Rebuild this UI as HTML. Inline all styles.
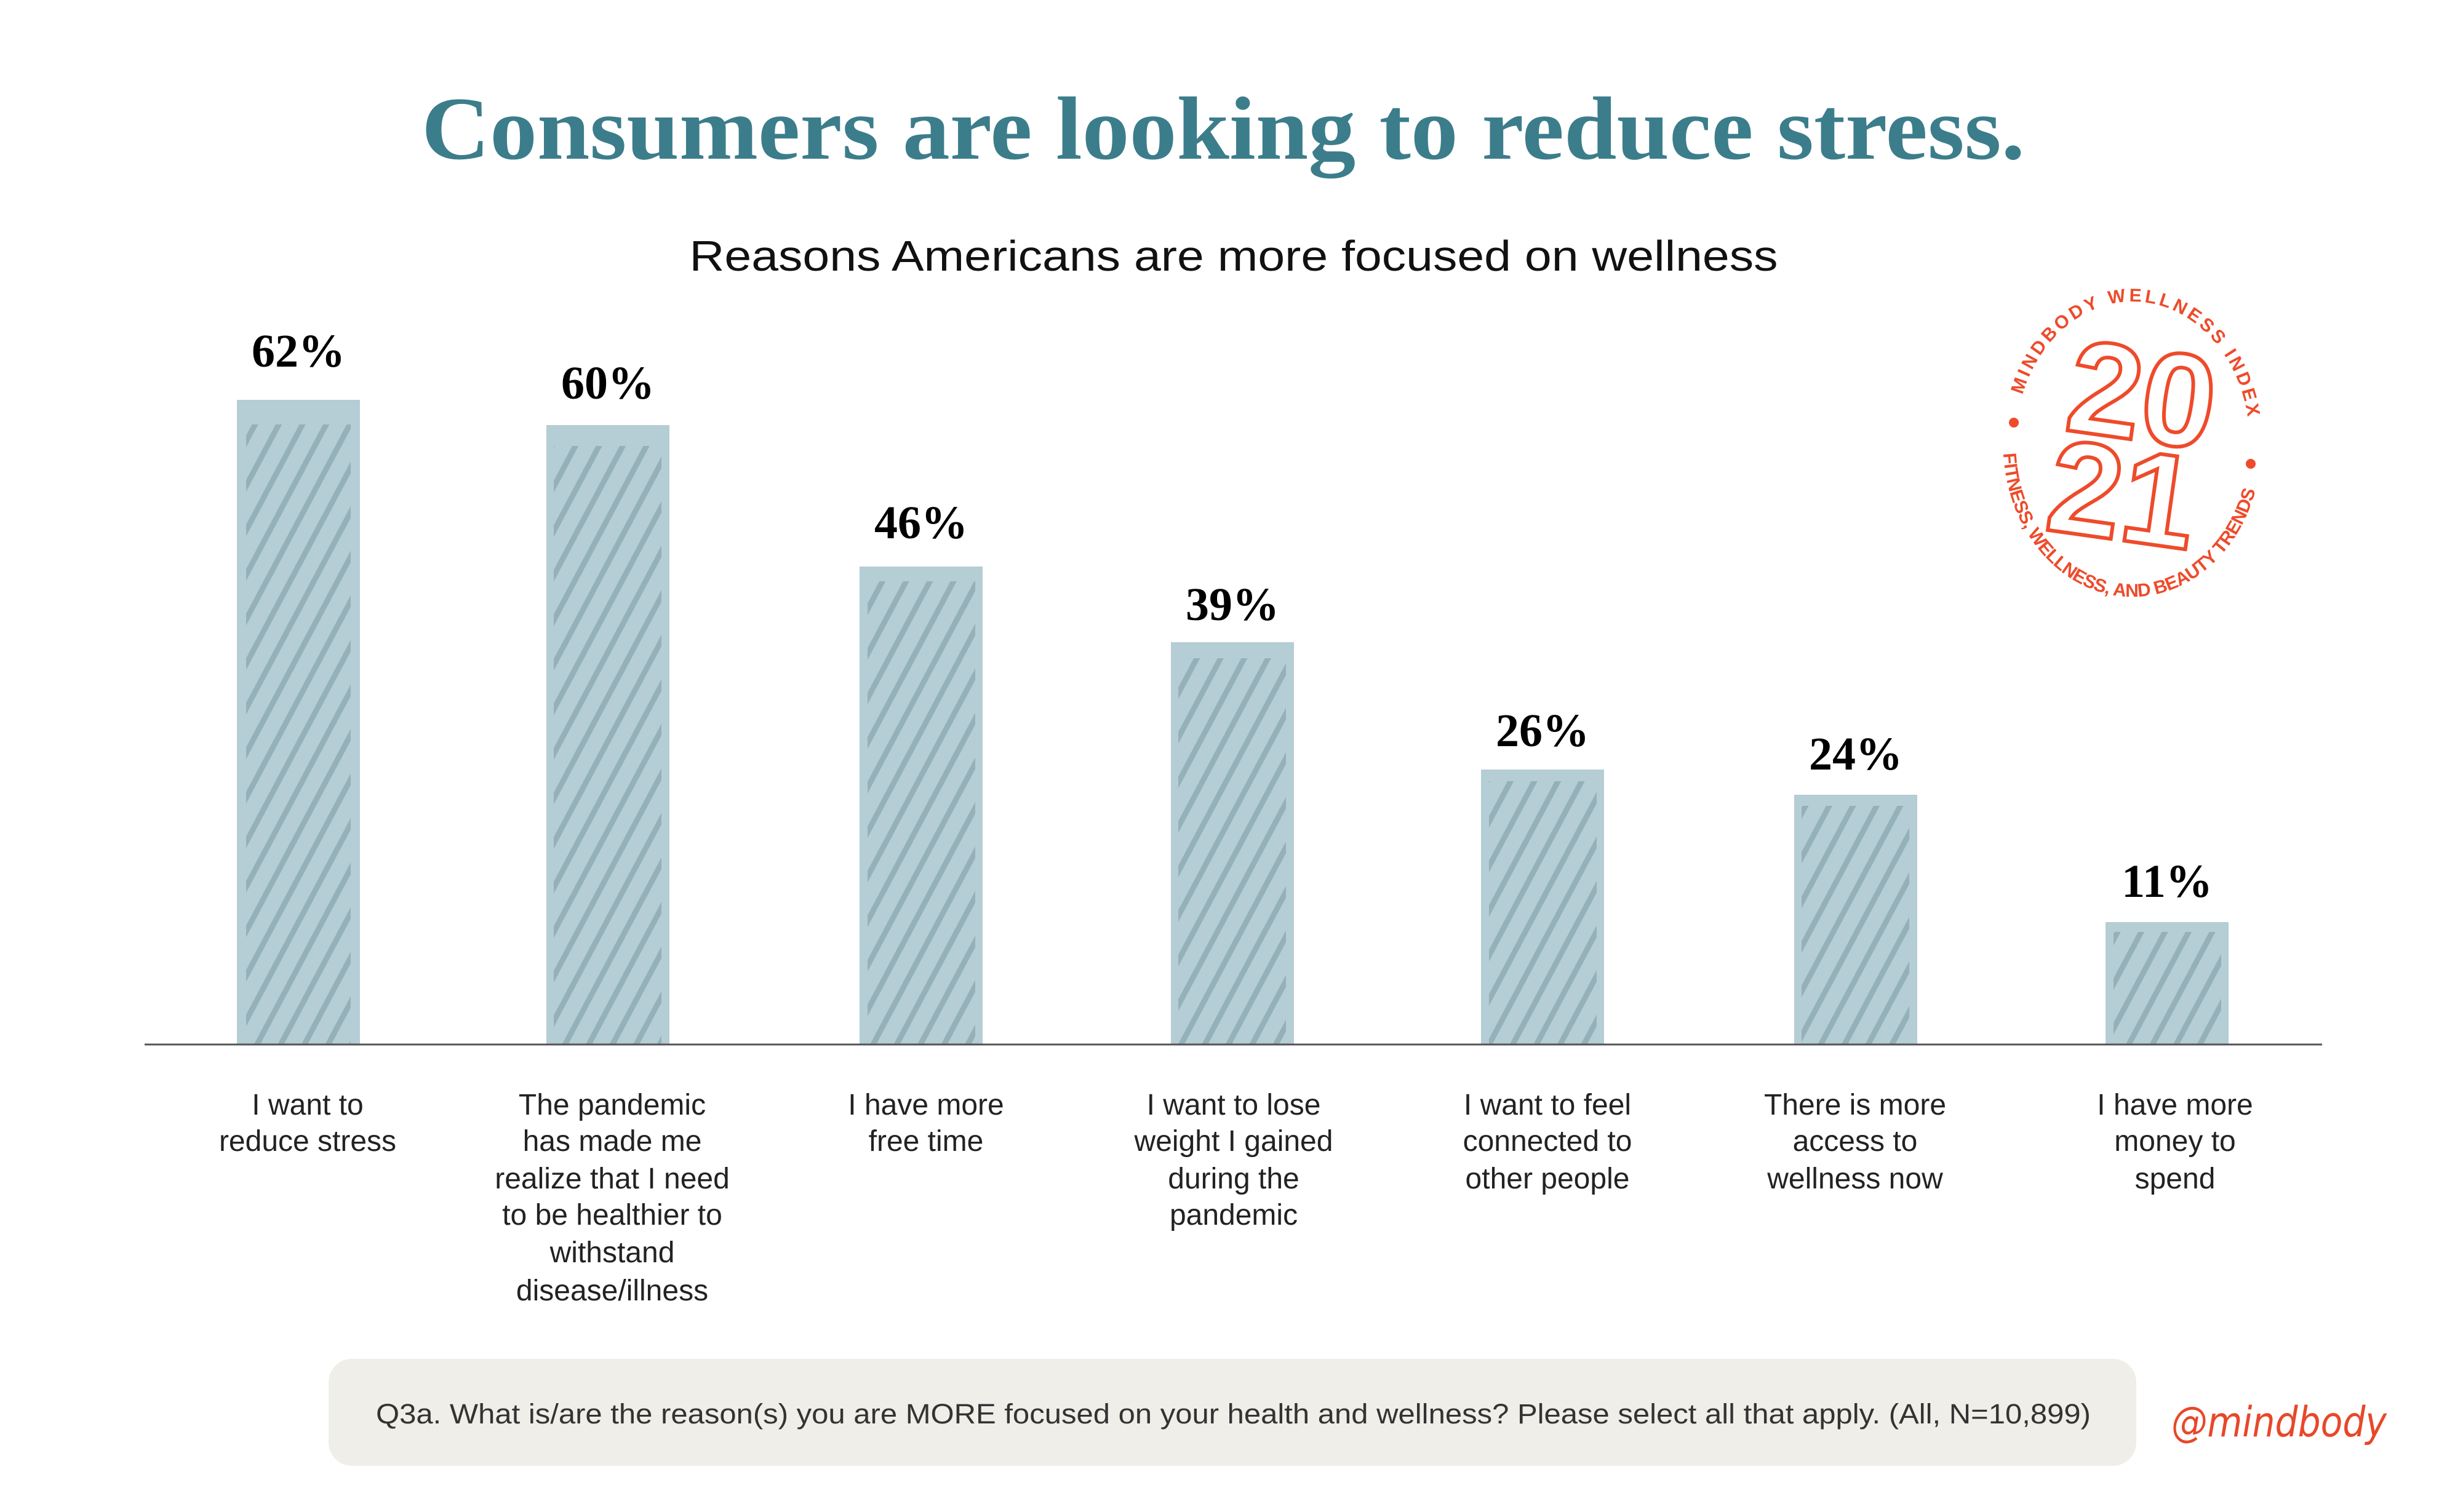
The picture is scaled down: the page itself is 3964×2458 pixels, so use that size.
<!DOCTYPE html>
<html><head><meta charset="utf-8"><style>html,body{margin:0;padding:0;background:#fff}svg{display:block}</style></head>
<body>
<svg width="3964" height="2458" viewBox="0 0 3964 2458" xmlns="http://www.w3.org/2000/svg">
<defs>
<pattern id="scr" width="34" height="34" patternUnits="userSpaceOnUse" patternTransform="rotate(28)">
<rect width="34" height="34" fill="#b5cdd4"/>
<line x1="10" y1="0" x2="10" y2="34" stroke="#8eacb5" stroke-width="9" opacity="0.85"/>
</pattern>
<path id="topArc" d="M 3287 642 A 190 228 0 0 1 3656 712"/>
<path id="botArc" d="M 3256 737 A 210 248 0 0 0 3669 784"/>
</defs>
<rect width="3964" height="2458" fill="#fff"/>
<text x="1988" y="258" text-anchor="middle" font-family="Liberation Serif, serif" font-weight="bold" font-size="146" fill="#3c7d8b" textLength="2606" lengthAdjust="spacingAndGlyphs">Consumers are looking to reduce stress.</text>
<text x="2005" y="440" text-anchor="middle" font-family="Liberation Sans, sans-serif" font-size="70" fill="#111" textLength="1769" lengthAdjust="spacingAndGlyphs">Reasons Americans are more focused on wellness</text>

<g font-family="Liberation Serif, serif" font-weight="bold" font-size="76" fill="#000" text-anchor="middle">
<rect x="385" y="650" width="200" height="1047" fill="#b5cdd4"/><rect x="400" y="690" width="170" height="1007" fill="url(#scr)"/>
<text x="485" y="596">62%</text>
<rect x="888" y="691" width="200" height="1006" fill="#b5cdd4"/><rect x="900" y="725" width="175" height="972" fill="url(#scr)"/>
<text x="988" y="648">60%</text>
<rect x="1397" y="921" width="200" height="776" fill="#b5cdd4"/><rect x="1410" y="945" width="175" height="752" fill="url(#scr)"/>
<text x="1497" y="875">46%</text>
<rect x="1903" y="1044" width="200" height="653" fill="#b5cdd4"/><rect x="1915" y="1070" width="175" height="627" fill="url(#scr)"/>
<text x="2003" y="1008">39%</text>
<rect x="2407" y="1251" width="200" height="446" fill="#b5cdd4"/><rect x="2420" y="1270" width="175" height="427" fill="url(#scr)"/>
<text x="2507" y="1213">26%</text>
<rect x="2916" y="1292" width="200" height="405" fill="#b5cdd4"/><rect x="2928" y="1310" width="175" height="387" fill="url(#scr)"/>
<text x="3016" y="1251">24%</text>
<rect x="3422" y="1499" width="200" height="198" fill="#b5cdd4"/><rect x="3435" y="1515" width="175" height="182" fill="url(#scr)"/>
<text x="3522" y="1458">11%</text>
</g>
<line x1="235" y1="1698" x2="3774" y2="1698" stroke="#555" stroke-width="3"/>

<g font-family="Liberation Sans, sans-serif" font-size="48" fill="#222" text-anchor="middle">
<text x="500" y="1812">I want to</text><text x="500" y="1871">reduce stress</text>
<text x="995" y="1812">The pandemic</text><text x="995" y="1871">has made me</text><text x="995" y="1932">realize that I need</text><text x="995" y="1991">to be healthier to</text><text x="995" y="2052">withstand</text><text x="995" y="2114">disease/illness</text>
<text x="1505" y="1812">I have more</text><text x="1505" y="1871">free time</text>
<text x="2005" y="1812">I want to lose</text><text x="2005" y="1871">weight I gained</text><text x="2005" y="1932">during the</text><text x="2005" y="1991">pandemic</text>
<text x="2515" y="1812">I want to feel</text><text x="2515" y="1871">connected to</text><text x="2515" y="1932">other people</text>
<text x="3015" y="1812">There is more</text><text x="3015" y="1871">access to</text><text x="3015" y="1932">wellness now</text>
<text x="3535" y="1812">I have more</text><text x="3535" y="1871">money to</text><text x="3535" y="1932">spend</text>
</g>

<rect x="534" y="2209" width="2938" height="174" rx="38" fill="#efeee8"/>
<text x="611" y="2314" font-family="Liberation Sans, sans-serif" font-size="45" fill="#333" textLength="2787" lengthAdjust="spacingAndGlyphs">Q3a. What is/are the reason(s) you are MORE focused on your health and wellness? Please select all that apply. (All, N=10,899)</text>
<text x="3529" y="2335" font-family="DejaVu Sans, sans-serif" font-style="italic" font-size="68" fill="#e8472a" textLength="350" lengthAdjust="spacingAndGlyphs">@mindbody</text>

<g fill="#ee4b2b" font-family="Liberation Sans, sans-serif" font-weight="bold" font-size="30">
<text><textPath href="#topArc" textLength="540" lengthAdjust="spacing">MINDBODY WELLNESS INDEX</textPath></text>
<text><textPath href="#botArc" textLength="630" lengthAdjust="spacing">FITNESS, WELLNESS, AND BEAUTY TRENDS</textPath></text>
<circle cx="3273" cy="687" r="8"/><circle cx="3658" cy="754" r="8"/>
</g>
<g fill="none" stroke="#ee4b2b" stroke-width="6" font-family="Liberation Sans, sans-serif" font-weight="bold" font-size="215">
<text x="3482" y="716" text-anchor="middle" transform="rotate(8 3482 640)">20</text>
<text x="3450" y="878" text-anchor="middle" transform="rotate(8 3450 800)">21</text>
</g>
</svg>
</body></html>
